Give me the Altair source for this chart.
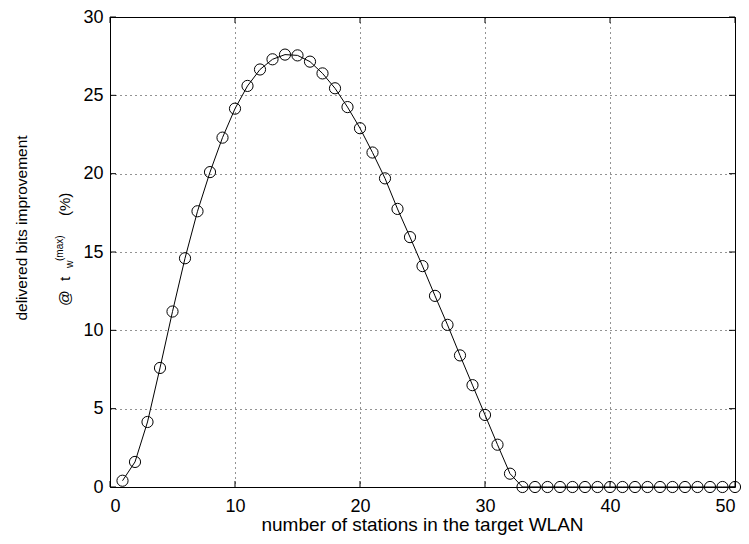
import altair as alt
import pandas as pd

stations = list(range(1, 51))
improvement = [0.4, 1.6, 4.15, 7.6, 11.2, 14.6, 17.6, 20.1, 22.3, 24.15,
               25.6, 26.65, 27.3, 27.6, 27.55, 27.15, 26.4, 25.45, 24.25, 22.9,
               21.35, 19.7, 17.75, 15.95, 14.1, 12.2, 10.35, 8.4, 6.5, 4.6,
               2.7, 0.85] + [0.0] * 18
x_ticks = [0, 10, 20, 30, 40, 50]
y_ticks = [0, 5, 10, 15, 20, 25, 30]

W, H = 625, 470
X0, Y0 = 110, 17
FONT = "Liberation Sans"

df = pd.DataFrame({"n": stations, "v": improvement})

xs = alt.Scale(domain=[0, 50], nice=False)
ys = alt.Scale(domain=[0, 30], nice=False)

base = alt.Chart(df)

grid_kw = dict(grid=True, gridDash=[1, 4], gridColor="#000000", gridOpacity=0.85,
               ticks=False, domain=False, labelFont=FONT, labelColor="black")

line = base.mark_line(color="black", strokeWidth=1).encode(
    x=alt.X("n:Q", scale=xs,
            axis=alt.Axis(values=x_ticks, title=None, labelFontSize=18,
                          labelPadding=10, **grid_kw)),
    y=alt.Y("v:Q", scale=ys,
            axis=alt.Axis(values=y_ticks, title=None, labelFontSize=18,
                          labelPadding=7, **grid_kw)),
)

points = base.mark_point(shape="circle", filled=False, color="black",
                         strokeWidth=1, size=125, opacity=1).encode(
    x=alt.X("n:Q", scale=xs), y=alt.Y("v:Q", scale=ys))

# inward tick marks (bottom/top, left/right)
xt = pd.DataFrame({"t": x_ticks})
yt = pd.DataFrame({"t": y_ticks})
tl = 6
xb = alt.Chart(xt).mark_rule(color="black", strokeWidth=1).encode(
    x=alt.X("t:Q", scale=xs), y=alt.value(H), y2=alt.value(H - tl))
xtop = alt.Chart(xt).mark_rule(color="black", strokeWidth=1).encode(
    x=alt.X("t:Q", scale=xs), y=alt.value(0), y2=alt.value(tl))
yl = alt.Chart(yt).mark_rule(color="black", strokeWidth=1).encode(
    y=alt.Y("t:Q", scale=ys), x=alt.value(0), x2=alt.value(tl))
yr = alt.Chart(yt).mark_rule(color="black", strokeWidth=1).encode(
    y=alt.Y("t:Q", scale=ys), x=alt.value(W), x2=alt.value(W - tl))

one = pd.DataFrame({"a": [0]})

def ptext(txt, px, py, size, angle=0, align="left", baseline="alphabetic"):
    kw = dict(text=txt, font=FONT, fontSize=size, color="black",
              align=align, baseline=baseline)
    if angle:
        kw["angle"] = angle
    return alt.Chart(one).mark_text(**kw).encode(
        x=alt.value(px - X0), y=alt.value(py - Y0))

xtitle = ptext("number of stations in the target WLAN", X0 + W / 2, 531, 19,
               align="center")
title1 = ptext("delivered bits improvement", 27, 228, 15.5, angle=270, align="center")
t_at = ptext("@", 70, 306, 15.5, angle=270)
t_t = ptext("t", 70, 281, 15.5, angle=270)
t_sub = ptext("w", 72.5, 268, 10.5, angle=270)
t_sup = ptext("(max)", 63, 261, 10, angle=270)
t_pct = ptext("(%)", 70, 216, 15, angle=270)

chart = alt.layer(line, points, xb, xtop, yl, yr, xtitle, title1,
                  t_at, t_t, t_sub, t_sup, t_pct).properties(
    width=W, height=H,
    autosize=alt.AutoSizeParams(type="none"),
    padding={"left": X0 - 8, "top": Y0 - 8, "right": 6, "bottom": 55},
    background="white",
).configure_view(stroke="black", strokeWidth=1)

chart.save("out.html", embed_options={"renderer": "svg", "actions": False})
